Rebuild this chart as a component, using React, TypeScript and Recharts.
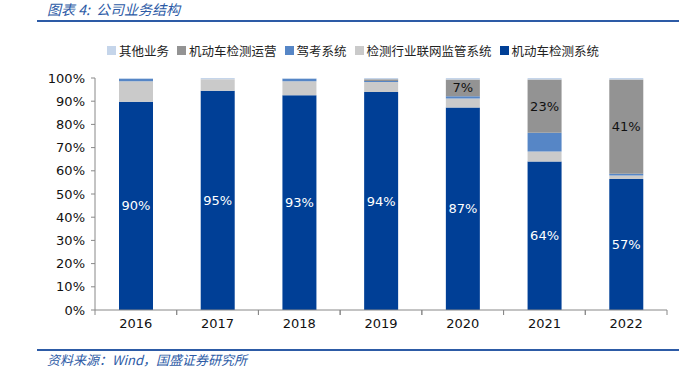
import { BarChart, Bar, XAxis, YAxis, LabelList } from 'recharts'

// 年份
const years = ['2016', '2017', '2018', '2019', '2020', '2021', '2022']

// 各业务占比（%），自下而上堆叠
const detectSystem = [89.8, 94.5, 92.6, 94.0, 87.2, 63.9, 56.4]
const networkSystem = [8.8, 5.0, 6.0, 4.3, 3.9, 4.3, 1.5]
const examSystem = [1.1, 0, 1.1, 0.4, 0.9, 8.0, 0.7]
const detectOperation = [0, 0, 0, 0.8, 7.3, 23.0, 40.6]
const otherBiz = [0.3, 0.5, 0.3, 0.5, 0.6, 0.6, 0.6]

// 图上的数据标签
const detectSystemLabels = ['90%', '95%', '93%', '94%', '87%', '64%', '57%']
const detectOperationLabels = ['', '', '', '', '7%', '23%', '41%']

const yTicks = [0, 0.1, 0.2, 0.3, 0.4, 0.5, 0.6, 0.7, 0.8, 0.9, 1]

const data = years.map((year, i) => ({
  year,
  detectSystem: detectSystem[i],
  networkSystem: networkSystem[i],
  examSystem: examSystem[i],
  detectOperation: detectOperation[i],
  otherBiz: otherBiz[i],
  detectSystemLabel: detectSystemLabels[i],
  detectOperationLabel: detectOperationLabels[i],
}))

const legendItems = [
  { name: '其他业务', color: '#c5d5ea' },
  { name: '机动车检测运营', color: '#939393' },
  { name: '驾考系统', color: '#5686c6' },
  { name: '检测行业联网监管系统', color: '#cacaca' },
  { name: '机动车检测系统', color: '#003f96' },
]

const BLUE = '#2d5ba6'
const CJK = '"Noto Sans CJK SC", "Noto Sans", sans-serif'
const NUM_FONT = '"DejaVu Sans", Verdana, sans-serif'
const tickStyle = { fontSize: 13, fill: '#111', fontFamily: NUM_FONT }

// 类目轴：刻度线画在类目之间，文字居中
function YearTick(props: any) {
  const { x, y, payload } = props
  const half = payload?.offset ?? 0
  return (
    <g>
      <line x1={x - half} x2={x - half} y1={y} y2={y + 5} stroke="#888" />
      <line x1={x + half} x2={x + half} y1={y} y2={y + 5} stroke="#888" />
      <text x={x} y={y + 18} textAnchor="middle" fontSize={13} fill="#111" fontFamily={NUM_FONT}>
        {payload.value}
      </text>
    </g>
  )
}

export default function App() {
  return (
    <div
      style={{
        position: 'fixed',
        left: 0,
        top: 0,
        width: 679,
        height: 370,
        background: '#fff',
        overflow: 'hidden',
      }}
    >
      <div
        style={{
          position: 'absolute',
          left: 47,
          top: 0,
          fontSize: 14,
          fontStyle: 'italic',
          color: BLUE,
          fontFamily: CJK,
          lineHeight: '18px',
        }}
      >
        图表 4:&nbsp; 公司业务结构
      </div>
      <div style={{ position: 'absolute', left: 37, right: 0, top: 20, height: 2, background: BLUE }} />

      <div
        style={{
          position: 'absolute',
          left: 107,
          top: 41,
          display: 'flex',
          gap: 8,
          fontSize: 12.5,
          fontFamily: CJK,
          color: '#222',
          whiteSpace: 'nowrap',
        }}
      >
        {legendItems.map((it) => (
          <div key={it.name} style={{ display: 'flex', alignItems: 'center', gap: 3 }}>
            <span style={{ width: 9, height: 9, background: it.color, display: 'inline-block' }} />
            <span>{it.name}</span>
          </div>
        ))}
      </div>

      <div style={{ position: 'absolute', left: 0, top: 0 }}>
        <BarChart
          width={679}
          height={370}
          data={data}
          stackOffset="expand"
          barCategoryGap={0}
          margin={{ top: 78, right: 12, bottom: 30, left: 35 }}
        >
          <XAxis
            dataKey="year"
            height={30}
            tickLine={false}
            axisLine={{ stroke: '#888' }}
            tick={<YearTick />}
            tickMargin={0}
            tickSize={0}
            interval={0}
          />
          <YAxis
            width={60}
            domain={[0, 1]}
            ticks={yTicks}
            tickFormatter={(v: number) => `${Math.round(v * 100)}%`}
            tick={tickStyle}
            tickSize={4}
            tickMargin={6}
            axisLine={{ stroke: '#888' }}
            tickLine={{ stroke: '#888' }}
            interval={0}
          />
          <Bar dataKey="detectSystem" stackId="a" fill="#003f96" barSize={34} isAnimationActive={false}>
            <LabelList dataKey="detectSystemLabel" position="center" fill="#fff" fontSize={13} fontFamily={NUM_FONT} />
          </Bar>
          <Bar dataKey="networkSystem" stackId="a" fill="#cacaca" barSize={34} isAnimationActive={false} />
          <Bar dataKey="examSystem" stackId="a" fill="#5686c6" barSize={34} isAnimationActive={false} />
          <Bar dataKey="detectOperation" stackId="a" fill="#939393" barSize={34} isAnimationActive={false}>
            <LabelList dataKey="detectOperationLabel" position="center" fill="#111" fontSize={13} fontFamily={NUM_FONT} />
          </Bar>
          <Bar dataKey="otherBiz" stackId="a" fill="#c5d5ea" barSize={34} isAnimationActive={false} />
        </BarChart>
      </div>

      <div style={{ position: 'absolute', left: 37, right: 0, top: 349, height: 2, background: BLUE }} />
      <div
        style={{
          position: 'absolute',
          left: 47,
          top: 351,
          fontSize: 13,
          fontStyle: 'italic',
          color: BLUE,
          fontFamily: CJK,
          lineHeight: '18px',
        }}
      >
        资料来源：Wind，国盛证券研究所
      </div>
    </div>
  )
}
